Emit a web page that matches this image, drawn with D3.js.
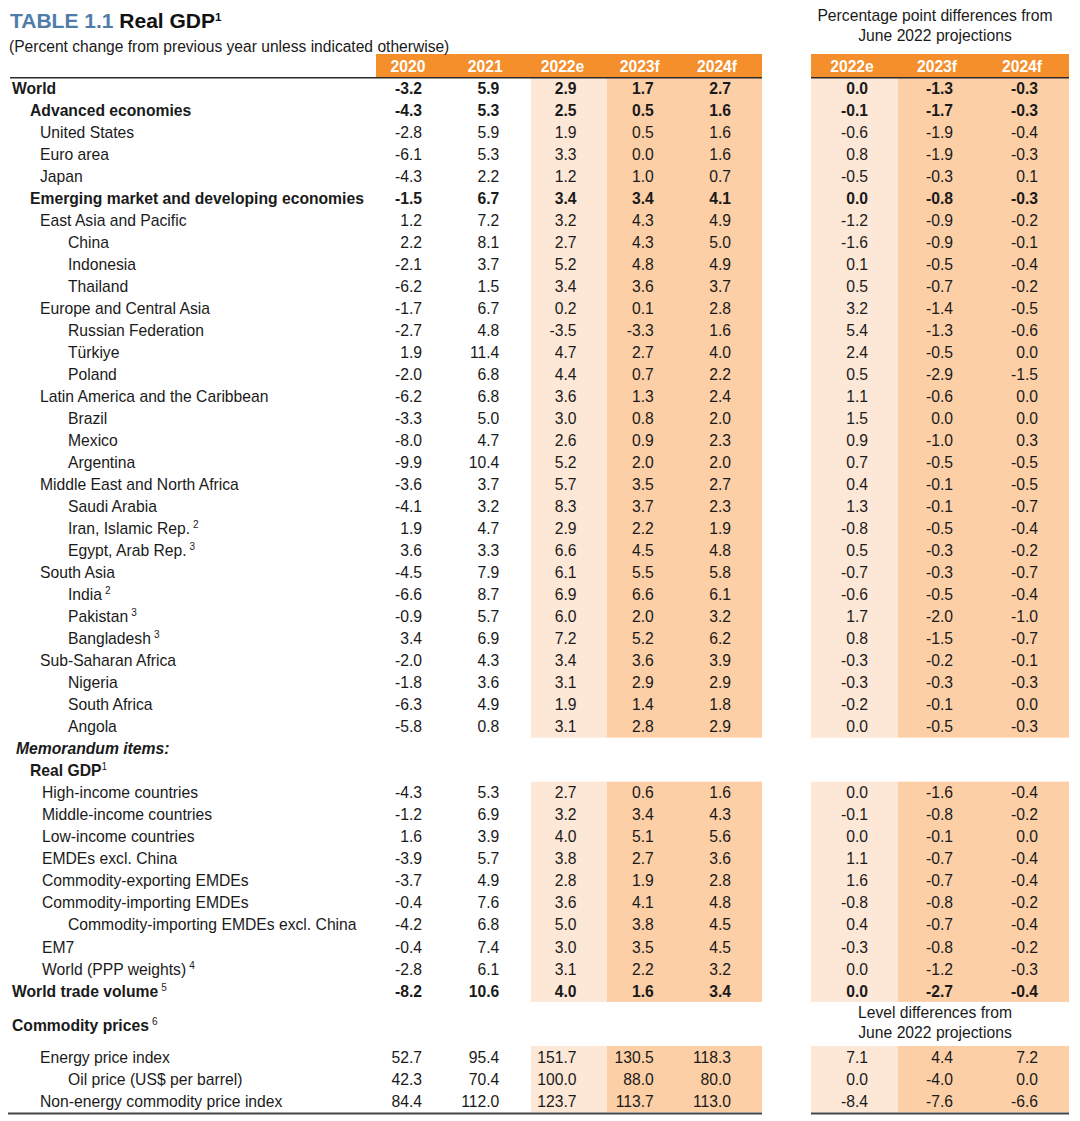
<!DOCTYPE html>
<html><head><meta charset="utf-8">
<script src="https://cdn.jsdelivr.net/npm/d3@7"></script>
<style>
html,body{margin:0;padding:0;background:#fff;}
svg{display:block;font-family:"Liberation Sans",Arial,sans-serif;}
</style></head>
<body>
<svg id="chart" width="1080" height="1121"></svg>
<script>
// ---------- DATA ----------
const years = ["2020", "2021", "2022e", "2023f", "2024f"];
const diffYears = ["2022e", "2023f", "2024f"];

const labels = [
  "World","Advanced economies","United States","Euro area","Japan",
  "Emerging market and developing economies","East Asia and Pacific","China","Indonesia","Thailand",
  "Europe and Central Asia","Russian Federation","Türkiye","Poland",
  "Latin America and the Caribbean","Brazil","Mexico","Argentina",
  "Middle East and North Africa","Saudi Arabia","Iran, Islamic Rep.","Egypt, Arab Rep.",
  "South Asia","India","Pakistan","Bangladesh",
  "Sub-Saharan Africa","Nigeria","South Africa","Angola",
  "Memorandum items:","Real GDP",
  "High-income countries","Middle-income countries","Low-income countries","EMDEs excl. China",
  "Commodity-exporting EMDEs","Commodity-importing EMDEs","Commodity-importing EMDEs excl. China",
  "EM7","World (PPP weights)","World trade volume",
  "Commodity prices","Energy price index","Oil price (US$ per barrel)","Non-energy commodity price index"
];
const footnotes = [
  "","","","","", "","","","","", "","","","", "","","","", "","","2","3", "","2","3","3",
  "","","","", "","1", "","","","", "","","", "","4","5", "6","","",""
];
// indent level
const indentLevel = [
  0,1,2,2,2, 1,2,3,3,3, 2,3,3,3, 2,3,3,3, 2,3,3,3, 2,3,3,3, 2,3,3,3,
  0.5,1, 2.1,2.1,2.1,2.1, 2.1,2.1,3, 2.1,2.1,0, 0,2,3,2
];
// style: b = bold, bi = bold italic, n = normal
const rowStyle = [
  "b","b","n","n","n", "b","n","n","n","n", "n","n","n","n", "n","n","n","n", "n","n","n","n", "n","n","n","n",
  "n","n","n","n", "bi","b", "n","n","n","n", "n","n","n", "n","n","b", "b","n","n","n"
];

const v2020 = [-3.2,-4.3,-2.8,-6.1,-4.3,-1.5,1.2,2.2,-2.1,-6.2,-1.7,-2.7,1.9,-2.0,-6.2,-3.3,-8.0,-9.9,-3.6,-4.1,1.9,3.6,-4.5,-6.6,-0.9,3.4,-2.0,-1.8,-6.3,-5.8,null,null,-4.3,-1.2,1.6,-3.9,-3.7,-0.4,-4.2,-0.4,-2.8,-8.2,null,52.7,42.3,84.4];
const v2021 = [5.9,5.3,5.9,5.3,2.2,6.7,7.2,8.1,3.7,1.5,6.7,4.8,11.4,6.8,6.8,5.0,4.7,10.4,3.7,3.2,4.7,3.3,7.9,8.7,5.7,6.9,4.3,3.6,4.9,0.8,null,null,5.3,6.9,3.9,5.7,4.9,7.6,6.8,7.4,6.1,10.6,null,95.4,70.4,112.0];
const v2022 = [2.9,2.5,1.9,3.3,1.2,3.4,3.2,2.7,5.2,3.4,0.2,-3.5,4.7,4.4,3.6,3.0,2.6,5.2,5.7,8.3,2.9,6.6,6.1,6.9,6.0,7.2,3.4,3.1,1.9,3.1,null,null,2.7,3.2,4.0,3.8,2.8,3.6,5.0,3.0,3.1,4.0,null,151.7,100.0,123.7];
const v2023 = [1.7,0.5,0.5,0.0,1.0,3.4,4.3,4.3,4.8,3.6,0.1,-3.3,2.7,0.7,1.3,0.8,0.9,2.0,3.5,3.7,2.2,4.5,5.5,6.6,2.0,5.2,3.6,2.9,1.4,2.8,null,null,0.6,3.4,5.1,2.7,1.9,4.1,3.8,3.5,2.2,1.6,null,130.5,88.0,113.7];
const v2024 = [2.7,1.6,1.6,1.6,0.7,4.1,4.9,5.0,4.9,3.7,2.8,1.6,4.0,2.2,2.4,2.0,2.3,2.0,2.7,2.3,1.9,4.8,5.8,6.1,3.2,6.2,3.9,2.9,1.8,2.9,null,null,1.6,4.3,5.6,3.6,2.8,4.8,4.5,4.5,3.2,3.4,null,118.3,80.0,113.0];
const d2022 = [0.0,-0.1,-0.6,0.8,-0.5,0.0,-1.2,-1.6,0.1,0.5,3.2,5.4,2.4,0.5,1.1,1.5,0.9,0.7,0.4,1.3,-0.8,0.5,-0.7,-0.6,1.7,0.8,-0.3,-0.3,-0.2,0.0,null,null,0.0,-0.1,0.0,1.1,1.6,-0.8,0.4,-0.3,0.0,0.0,null,7.1,0.0,-8.4];
const d2023 = [-1.3,-1.7,-1.9,-1.9,-0.3,-0.8,-0.9,-0.9,-0.5,-0.7,-1.4,-1.3,-0.5,-2.9,-0.6,0.0,-1.0,-0.5,-0.1,-0.1,-0.5,-0.3,-0.3,-0.5,-2.0,-1.5,-0.2,-0.3,-0.1,-0.5,null,null,-1.6,-0.8,-0.1,-0.7,-0.7,-0.8,-0.7,-0.8,-1.2,-2.7,null,4.4,-4.0,-7.6];
const d2024 = [-0.3,-0.3,-0.4,-0.3,0.1,-0.3,-0.2,-0.1,-0.4,-0.2,-0.5,-0.6,0.0,-1.5,0.0,0.0,0.3,-0.5,-0.5,-0.7,-0.4,-0.2,-0.7,-0.4,-1.0,-0.7,-0.1,-0.3,0.0,-0.3,null,null,-0.4,-0.2,0.0,-0.4,-0.4,-0.2,-0.4,-0.2,-0.3,-0.4,null,7.2,0.0,-6.6];

const titleParts = {lead: "TABLE 1.1", main: "Real GDP", sup: "1"};
const subtitle = "(Percent change from previous year unless indicated otherwise)";
const diffHeader = ["Percentage point differences from", "June 2022 projections"];
const levelHeader = ["Level differences from", "June 2022 projections"];

// ---------- LAYOUT ----------
const svg = d3.select("#chart");
const C = {
  orange: "#F58F2C", light: "#FDE7D7", dark: "#FCCFA7", text: "#1a1a1a",
  blue: "#4E7DAA", rule: "#2b2b2b"
};
const FS = 15.7;
const slot = i => i <= 41 ? i : (i === 42 ? 42.55 : i + 1);
const y = d3.scaleLinear().domain([0, 46]).range([88, 1101]);
const half = (y(1) - y(0)) / 2;

const xL = d3.scalePoint().domain(years).range([422, 731]);
const xR = d3.scalePoint().domain(diffYears).range([868, 1038]);
const xIndent = d3.scaleLinear().domain([0, 1, 2, 3]).range([12, 30, 40, 68]);

// ---------- BANDS ----------
const bandSpans = [[0, 29], [32, 41], [43, 45]];
const leftTop = 78;
const bandY = s => {
  const top = s[0] === 0 ? leftTop : y(slot(s[0])) - half;
  const bot = y(slot(s[1])) + half;
  return [top, bot];
};
const bandCols = [
  {x0: 531, x1: 607, fill: C.light}, {x0: 607, x1: 762, fill: C.dark},
  {x0: 811, x1: 898, fill: C.light}, {x0: 898, x1: 1069, fill: C.dark}
];
const gBands = svg.append("g");
bandSpans.forEach(s => {
  const [t, b] = bandY(s);
  bandCols.forEach(c => {
    gBands.append("rect").attr("x", c.x0).attr("y", t).attr("width", c.x1 - c.x0)
      .attr("height", b - t).attr("fill", c.fill);
  });
});

// ---------- HEADER ----------
svg.append("rect").attr("x", 376).attr("y", 54).attr("width", 386).attr("height", 23).attr("fill", C.orange);
svg.append("rect").attr("x", 811).attr("y", 54).attr("width", 258).attr("height", 23).attr("fill", C.orange);
svg.append("line").attr("x1", 10).attr("x2", 762).attr("y1", 77.8).attr("y2", 77.8).attr("stroke", C.rule).attr("stroke-width", 1.6);
svg.append("line").attr("x1", 811).attr("x2", 1069).attr("y1", 77.8).attr("y2", 77.8).attr("stroke", C.rule).attr("stroke-width", 1.6);

svg.selectAll("text.hl").data(years).join("text").attr("class", "hl")
  .attr("x", d => xL(d) - 14).attr("y", 66).attr("dy", "0.36em")
  .attr("text-anchor", "middle").attr("fill", "#fff").attr("font-weight", "bold")
  .attr("font-size", FS).text(d => d);
svg.selectAll("text.hr").data(diffYears).join("text").attr("class", "hr")
  .attr("x", d => xR(d) - 16).attr("y", 66).attr("dy", "0.36em")
  .attr("text-anchor", "middle").attr("fill", "#fff").attr("font-weight", "bold")
  .attr("font-size", FS).text(d => d);

// title
const t = svg.append("text").attr("x", 10).attr("y", 28).attr("font-weight", "bold").attr("font-size", 21);
t.append("tspan").attr("fill", C.blue).text(titleParts.lead + " ");
t.append("tspan").attr("fill", "#111").text(titleParts.main);
t.append("tspan").attr("fill", "#111").attr("font-size", 11.5).attr("dy", -7).text(titleParts.sup);
svg.append("text").attr("x", 9).attr("y", 52).attr("font-size", 15.6).attr("fill", C.text).text(subtitle);

diffHeader.forEach((s, k) => svg.append("text").attr("x", 935).attr("y", 21 + k * 19.5)
  .attr("text-anchor", "middle").attr("font-size", FS).attr("fill", C.text).text(s));
levelHeader.forEach((s, k) => svg.append("text").attr("x", 935).attr("y", 1018 + k * 20)
  .attr("text-anchor", "middle").attr("font-size", FS).attr("fill", C.text).text(s));

// ---------- ROWS ----------
const rows = labels.map((l, i) => ({
  label: l, fn: footnotes[i], lvl: indentLevel[i], st: rowStyle[i],
  vals: [v2020[i], v2021[i], v2022[i], v2023[i], v2024[i]],
  diffs: [d2022[i], d2023[i], d2024[i]], i
}));
const fmt = d3.format(".1f");
const fmtV = v => fmt(v).replace("−", "-");

const gRows = svg.append("g").attr("fill", C.text).attr("font-size", FS);
const rg = gRows.selectAll("g").data(rows).join("g")
  .attr("transform", d => `translate(0,${y(slot(d.i))})`)
  .attr("font-weight", d => d.st === "n" ? "normal" : "bold")
  .attr("font-style", d => d.st === "bi" ? "italic" : "normal");

const lab = rg.append("text").attr("x", d => {
    const l = d.lvl;
    if (l === 0.5) return 16;
    if (l === 2.1) return 42;
    return xIndent(l);
  }).attr("dy", "0.36em");
lab.append("tspan").text(d => d.label);
lab.filter(d => d.fn).append("tspan").attr("font-size", 10).attr("font-weight", "normal")
  .attr("dx", d => d.fn === "1" ? 0 : 3).attr("dy", -6).text(d => d.fn);

rg.each(function(d) {
  const g = d3.select(this);
  d.vals.forEach((v, k) => {
    if (v === null) return;
    g.append("text").attr("x", xL(years[k])).attr("dy", "0.36em").attr("text-anchor", "end").text(fmtV(v));
  });
  d.diffs.forEach((v, k) => {
    if (v === null) return;
    g.append("text").attr("x", xR(diffYears[k])).attr("dy", "0.36em").attr("text-anchor", "end").text(fmtV(v));
  });
});

// bottom rules
const bottomY = y(46) + half + 1.5;
svg.append("line").attr("x1", 8).attr("x2", 762).attr("y1", bottomY).attr("y2", bottomY).attr("stroke", "#444").attr("stroke-width", 2.2);
svg.append("line").attr("x1", 811).attr("x2", 1069).attr("y1", bottomY).attr("y2", bottomY).attr("stroke", "#444").attr("stroke-width", 2.2);
</script>
</body></html>
